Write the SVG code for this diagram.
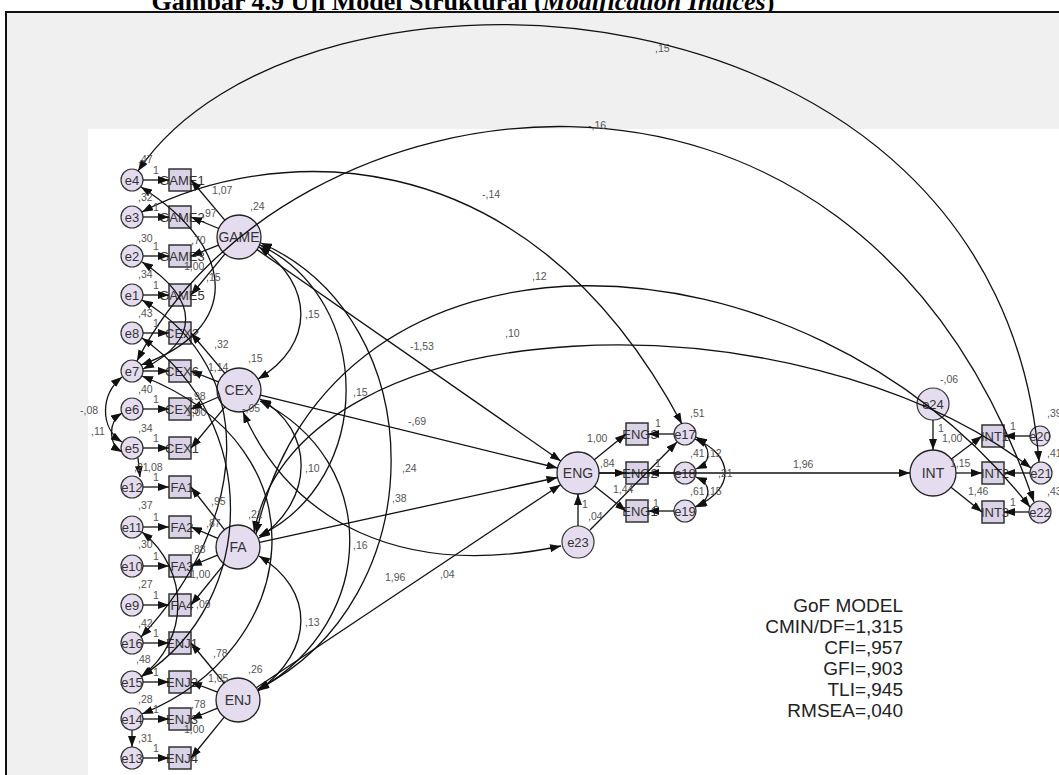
<svg xmlns="http://www.w3.org/2000/svg" width="1059" height="775" viewBox="0 0 1059 775">
<style>
.lat{fill:#e5ddef;stroke:#222;stroke-width:1.3}
.err{fill:#e5ddef;stroke:#333;stroke-width:1.2}
.obs{fill:#dad2e6;stroke:#333;stroke-width:1.5}
text{font-family:"Liberation Sans",Arial,sans-serif}
.nt{font-size:14px;fill:#333;text-anchor:middle}
.et{font-size:13px;fill:#333;text-anchor:middle}
.bt{font-size:13px;fill:#333;text-anchor:middle}
.lb{font-size:10.5px;fill:#555}
.c{fill:none;stroke:#111;stroke-width:1.3}
.a{marker-end:url(#ah)}
.d{marker-start:url(#ah);marker-end:url(#ah)}
.gof{font-size:19px;fill:#222;text-anchor:end}
.ttl{font-family:"Liberation Serif","Times New Roman",serif;font-weight:bold;font-size:26px;fill:#000;text-anchor:middle}
</style>
<defs>
<marker id="ah" markerUnits="userSpaceOnUse" markerWidth="11" markerHeight="8" refX="11" refY="4" orient="auto-start-reverse"><path d="M0,0 L11,4 L0,8 z" fill="#111"/></marker>
</defs>
<rect x="0" y="0" width="1059" height="775" fill="#fff"/>
<text class="ttl" x="463" y="10">Gambar 4.9 Uji Model Struktural (<tspan font-style="italic">Modification Indices</tspan>)</text>
<rect x="6" y="12" width="1070" height="780" fill="#f0f0f0" stroke="#111" stroke-width="2"/>
<rect x="88" y="129" width="975" height="650" fill="#fff"/>

<g id="nodes">
<g id="n-e4"><circle class="err" cx="132" cy="180" r="11"/><text class="et" x="132" y="184.5">e4</text></g>
<g id="n-e3"><circle class="err" cx="132" cy="217" r="11"/><text class="et" x="132" y="221.5">e3</text></g>
<g id="n-e2"><circle class="err" cx="132" cy="256" r="11"/><text class="et" x="132" y="260.5">e2</text></g>
<g id="n-e1"><circle class="err" cx="132" cy="295" r="11"/><text class="et" x="132" y="299.5">e1</text></g>
<g id="n-e8"><circle class="err" cx="132" cy="333" r="11"/><text class="et" x="132" y="337.5">e8</text></g>
<g id="n-e7"><circle class="err" cx="132" cy="371" r="11"/><text class="et" x="132" y="375.5">e7</text></g>
<g id="n-e6"><circle class="err" cx="132" cy="409" r="11"/><text class="et" x="132" y="413.5">e6</text></g>
<g id="n-e5"><circle class="err" cx="132" cy="448" r="11"/><text class="et" x="132" y="452.5">e5</text></g>
<g id="n-e12"><circle class="err" cx="132" cy="487" r="11"/><text class="et" x="132" y="491.5">e12</text></g>
<g id="n-e11"><circle class="err" cx="132" cy="527" r="11"/><text class="et" x="132" y="531.5">e11</text></g>
<g id="n-e10"><circle class="err" cx="132" cy="566" r="11"/><text class="et" x="132" y="570.5">e10</text></g>
<g id="n-e9"><circle class="err" cx="132" cy="605" r="11"/><text class="et" x="132" y="609.5">e9</text></g>
<g id="n-e16"><circle class="err" cx="132" cy="643" r="11"/><text class="et" x="132" y="647.5">e16</text></g>
<g id="n-e15"><circle class="err" cx="132" cy="682" r="11"/><text class="et" x="132" y="686.5">e15</text></g>
<g id="n-e14"><circle class="err" cx="132" cy="719" r="11"/><text class="et" x="132" y="723.5">e14</text></g>
<g id="n-e13"><circle class="err" cx="132" cy="758" r="11"/><text class="et" x="132" y="762.5">e13</text></g>

<g id="n-GAME1"><rect class="obs" x="169" y="169" width="22" height="22"/><text class="bt" x="182" y="184.5">GAME1</text></g>
<g id="n-GAME2"><rect class="obs" x="169" y="206" width="22" height="22"/><text class="bt" x="182" y="221.5">GAME2</text></g>
<g id="n-GAME3"><rect class="obs" x="169" y="245" width="22" height="22"/><text class="bt" x="182" y="260.5">GAME3</text></g>
<g id="n-GAME5"><rect class="obs" x="169" y="284" width="22" height="22"/><text class="bt" x="182" y="299.5">GAME5</text></g>
<g id="n-CEX2"><rect class="obs" x="169" y="322" width="22" height="22"/><text class="bt" x="182" y="337.5">CEX2</text></g>
<g id="n-CEX6"><rect class="obs" x="169" y="360" width="22" height="22"/><text class="bt" x="182" y="375.5">CEX6</text></g>
<g id="n-CEX5"><rect class="obs" x="169" y="398" width="22" height="22"/><text class="bt" x="182" y="413.5">CEX5</text></g>
<g id="n-CEX1"><rect class="obs" x="169" y="437" width="22" height="22"/><text class="bt" x="182" y="452.5">CEX1</text></g>
<g id="n-FA1"><rect class="obs" x="169" y="476" width="22" height="22"/><text class="bt" x="182" y="491.5">FA1</text></g>
<g id="n-FA2"><rect class="obs" x="169" y="516" width="22" height="22"/><text class="bt" x="182" y="531.5">FA2</text></g>
<g id="n-FA3"><rect class="obs" x="169" y="555" width="22" height="22"/><text class="bt" x="182" y="570.5">FA3</text></g>
<g id="n-FA4"><rect class="obs" x="169" y="594" width="22" height="22"/><text class="bt" x="182" y="609.5">FA4</text></g>
<g id="n-ENJ1"><rect class="obs" x="169" y="632" width="22" height="22"/><text class="bt" x="182" y="647.5">ENJ1</text></g>
<g id="n-ENJ2"><rect class="obs" x="169" y="671" width="22" height="22"/><text class="bt" x="182" y="686.5">ENJ2</text></g>
<g id="n-ENJ3"><rect class="obs" x="169" y="708" width="22" height="22"/><text class="bt" x="182" y="723.5">ENJ3</text></g>
<g id="n-ENJ4"><rect class="obs" x="169" y="747" width="22" height="22"/><text class="bt" x="182" y="762.5">ENJ4</text></g>

<g id="n-GAME"><circle class="lat" cx="239" cy="237" r="22"/><text class="nt" x="239" y="242">GAME</text></g>
<g id="n-CEX"><circle class="lat" cx="239" cy="390" r="22"/><text class="nt" x="239" y="395">CEX</text></g>
<g id="n-FA"><circle class="lat" cx="238" cy="547" r="22"/><text class="nt" x="238" y="552">FA</text></g>
<g id="n-ENJ"><circle class="lat" cx="238" cy="700" r="22"/><text class="nt" x="238" y="705">ENJ</text></g>

<g id="n-ENG"><circle class="lat" cx="578" cy="473" r="21"/><text class="nt" x="578" y="478">ENG</text></g>
<g id="n-ENG3"><rect class="obs" x="626" y="423" width="22" height="22"/><text class="bt" x="640" y="438.5">ENG3</text></g>
<g id="n-ENG2"><rect class="obs" x="626" y="462" width="22" height="22"/><text class="bt" x="640" y="477.5">ENG2</text></g>
<g id="n-ENG1"><rect class="obs" x="626" y="500" width="22" height="22"/><text class="bt" x="640" y="515.5">ENG1</text></g>
<g id="n-e17"><circle class="err" cx="685" cy="434" r="11"/><text class="et" x="685" y="438.5">e17</text></g>
<g id="n-e18"><circle class="err" cx="685" cy="473" r="11"/><text class="et" x="685" y="477.5">e18</text></g>
<g id="n-e19"><circle class="err" cx="685" cy="511" r="11"/><text class="et" x="685" y="515.5">e19</text></g>
<g id="n-e23"><circle class="err" cx="578" cy="542" r="16"/><text class="et" x="578" y="546.5">e23</text></g>

<g id="n-INT"><circle class="lat" cx="933" cy="473" r="23"/><text class="nt" x="933" y="478">INT</text></g>
<g id="n-e24"><circle class="err" cx="933" cy="404" r="16"/><text class="et" x="933" y="408.5">e24</text></g>
<g id="n-INT1"><rect class="obs" x="982" y="425" width="22" height="22"/><text class="bt" x="995" y="440.5">INT1</text></g>
<g id="n-INT2"><rect class="obs" x="982" y="462" width="22" height="22"/><text class="bt" x="995" y="477.5">INT2</text></g>
<g id="n-INT3"><rect class="obs" x="982" y="501" width="22" height="22"/><text class="bt" x="995" y="516.5">INT3</text></g>
<g id="n-e20"><circle class="err" cx="1040" cy="436" r="10"/><text class="et" x="1040" y="440.5">e20</text></g>
<g id="n-e21"><circle class="err" cx="1041" cy="473" r="11"/><text class="et" x="1041" y="477.5">e21</text></g>
<g id="n-e22"><circle class="err" cx="1040" cy="512" r="11"/><text class="et" x="1040" y="516.5">e22</text></g>
</g>

<g id="connectors">
<!-- error to indicator -->
<path class="c a" d="M143,180 H169"/><path class="c a" d="M143,217 H169"/><path class="c a" d="M143,256 H169"/><path class="c a" d="M143,295 H169"/>
<path class="c a" d="M143,333 H169"/><path class="c a" d="M143,371 H169"/><path class="c a" d="M143,409 H169"/><path class="c a" d="M143,448 H169"/>
<path class="c a" d="M143,487 H169"/><path class="c a" d="M143,527 H169"/><path class="c a" d="M143,566 H169"/><path class="c a" d="M143,605 H169"/>
<path class="c a" d="M143,643 H169"/><path class="c a" d="M143,682 H169"/><path class="c a" d="M143,719 H169"/><path class="c a" d="M143,758 H169"/>
<!-- loadings -->
<path class="c a" d="M224.8,220.2 L191,180"/><path class="c a" d="M218.7,228.5 L191,217"/><path class="c a" d="M218.5,245.1 L191,256"/><path class="c a" d="M225,253.9 L191,295"/>
<path class="c a" d="M224.8,373.2 L191,333"/><path class="c a" d="M218.5,381.9 L191,371"/><path class="c a" d="M218.5,397 L191,409"/><path class="c a" d="M225,406.9 L191,448"/>
<path class="c a" d="M224.4,529.7 L191,487"/><path class="c a" d="M217.8,538.4 L191,527"/><path class="c a" d="M217.6,555.2 L191,566"/><path class="c a" d="M224.2,564.1 L191,605"/>
<path class="c a" d="M224,683 L191,643"/><path class="c a" d="M217.5,692.1 L191,682"/><path class="c a" d="M217.6,708.2 L191,719"/><path class="c a" d="M224.2,717.1 L191,758"/>
<!-- structural -->
<path class="c a" d="M257.1,249.6 L560.8,461"/>
<path class="c a" d="M260.4,395.2 L557.6,468"/>
<path class="c a" d="M259.5,542.3 L557.5,477.5"/>
<path class="c a" d="M256.3,687.8 L560.5,484.7"/>
<path class="c a" d="M599,473 L910,473"/>
<path class="c a" d="M594.3,459.7 L626,434"/><path class="c a" d="M599,473 L626,473"/><path class="c a" d="M594.5,486 L626,511"/>
<path class="c a" d="M674,434 H648"/><path class="c a" d="M674,473 H648"/><path class="c a" d="M674,511 H648"/>
<path class="c a" d="M578,526 V494"/>
<path class="c a" d="M590,530 L677,442"/>
<path class="c a" d="M933,420 V450"/>
<path class="c a" d="M951.4,459.1 L982,436"/><path class="c a" d="M956,473 H982"/><path class="c a" d="M951,487.3 L982,512"/>
<path class="c a" d="M1030,436 H1004"/><path class="c a" d="M1030,473 H1004"/><path class="c a" d="M1029,512 H1004"/>
<!-- latent covariances -->
<path class="c d" d="M259,247 C315,285 315,345 258,379"/>
<path class="c d" d="M260,245 C375,300 375,480 259,536"/>
<path class="c d" d="M261,243 C435,320 435,600 258,689"/>
<path class="c d" d="M260,399 C315,430 315,500 259,538"/>
<path class="c d" d="M260,401 C380,460 380,620 258,690"/>
<path class="c d" d="M259,556 C315,590 315,650 258,691"/>
<!-- long covariances -->
<path class="c d" d="M138,171 C300,-70 1000,-40 1039,462"/>
<path class="c d" d="M137,361 C280,80 850,-30 1034,502"/>
<path class="c d" d="M142,212 C260,150 520,120 682,424"/>
<path class="c d" d="M256,534 C330,200 800,215 1030,507"/>
<path class="c d" d="M254,532 C300,300 800,290 1031,468"/>
<path class="c d" d="M243,412 C290,520 400,580 561,546"/>
<!-- error covariances left -->
<path class="c d" d="M122,377 C100,395 100,428 122,442"/>
<path class="c d" d="M122,413 C108,422 108,444 122,452"/>
<path class="c a" d="M138,458 L140,477"/>
<path class="c a" d="M132,730 V747"/>
<path class="c d" d="M141,187 C240,250 240,330 141,365"/>
<path class="c d" d="M142,262 C200,300 200,340 143,369"/>
<path class="c d" d="M142,300 C260,370 250,520 141,637"/>
<path class="c d" d="M142,338 C260,420 260,600 142,676"/>
<path class="c d" d="M142,376 C330,450 300,650 142,714"/>
<path class="c d" d="M142,532 C190,570 190,640 141,677"/>
<!-- ENG errors -->
<path class="c d" d="M695,439 C735,455 735,490 695,507"/>
<path class="c d" d="M696,437 C712,447 712,462 696,469"/>
<path class="c d" d="M696,477 C712,484 712,499 696,507"/>
</g>

<g id="labels">
<g class="lb">
<text x="138" y="163">,47</text><text x="138" y="201">,32</text><text x="138" y="242">,30</text><text x="138" y="278">,34</text>
<text x="138" y="317">,43</text><text x="138" y="393">,40</text><text x="138" y="432">,34</text>
<text x="134" y="471">,21</text><text x="148" y="471">,08</text>
<text x="138" y="509">,37</text><text x="138" y="548">,30</text><text x="138" y="588">,27</text>
<text x="138" y="627">,42</text><text x="136" y="663">,48</text><text x="138" y="703">,28</text><text x="138" y="742">,31</text>
<text x="153" y="174">1</text><text x="153" y="211">1</text><text x="153" y="250">1</text><text x="153" y="289">1</text>
<text x="153" y="327">1</text><text x="153" y="403">1</text><text x="153" y="442">1</text>
<text x="153" y="481">1</text><text x="153" y="521">1</text><text x="153" y="560">1</text><text x="153" y="599">1</text>
<text x="153" y="637">1</text><text x="153" y="676">1</text><text x="153" y="713">1</text><text x="153" y="752">1</text>
<text x="80" y="414">-,08</text><text x="91" y="435">,11</text>
<text x="212" y="194">1,07</text><text x="202" y="217">,97</text><text x="191" y="244">,70</text><text x="184" y="270">1,00</text><text x="206" y="281">,15</text>
<text x="250" y="210">,24</text>
<text x="214" y="348">,32</text><text x="208" y="371">1,14</text><text x="191" y="400">,98</text><text x="186" y="416">1,00</text>
<text x="248" y="362">,15</text><text x="242" y="412">-,05</text>
<text x="211" y="505">,95</text><text x="206" y="527">,87</text><text x="191" y="553">,88</text><text x="190" y="578">1,00</text><text x="196" y="608">,09</text>
<text x="248" y="518">,21</text>
<text x="213" y="657">,78</text><text x="208" y="682">1,05</text><text x="191" y="708">,78</text><text x="184" y="733">1,00</text>
<text x="248" y="673">,26</text>
<text x="305" y="318">,15</text><text x="353" y="396">,15</text><text x="305" y="472">,10</text><text x="402" y="472">,24</text>
<text x="392" y="502">,38</text><text x="353" y="549">,16</text><text x="385" y="581">1,96</text><text x="440" y="578">,04</text><text x="305" y="626">,13</text>
<text x="410" y="350">-1,53</text><text x="408" y="425">-,69</text>
<text x="655" y="52">,15</text><text x="588" y="129">-,16</text><text x="482" y="198">-,14</text><text x="532" y="280">,12</text><text x="505" y="337">,10</text>
<text x="587" y="442">1,00</text><text x="600" y="467">,84</text><text x="613" y="493">1,44</text>
<text x="582" y="508">1</text><text x="588" y="520">,04</text>
<text x="655" y="427">1</text><text x="655" y="467">1</text><text x="653" y="507">1</text>
<text x="690" y="417">,51</text><text x="690" y="457">,41</text><text x="707" y="457">,12</text><text x="718" y="477">,21</text>
<text x="690" y="495">,61</text><text x="707" y="495">,15</text>
<text x="793" y="468">1,96</text>
<text x="940" y="383">-,06</text><text x="938" y="432">1</text><text x="942" y="442">1,00</text><text x="950" y="467">1,15</text><text x="968" y="495">1,46</text>
<text x="1010" y="430">1</text><text x="1010" y="506">1</text>
<text x="1047" y="417">,39</text><text x="1047" y="457">,41</text><text x="1047" y="495">,43</text>
</g>
</g>

<g id="gof" class="gof">
<text class="gof" x="903" y="612">GoF MODEL</text>
<text class="gof" x="903" y="633">CMIN/DF=1,315</text>
<text class="gof" x="903" y="654">CFI=,957</text>
<text class="gof" x="903" y="675">GFI=,903</text>
<text class="gof" x="903" y="696">TLI=,945</text>
<text class="gof" x="903" y="717">RMSEA=,040</text>
</g>
</svg>
